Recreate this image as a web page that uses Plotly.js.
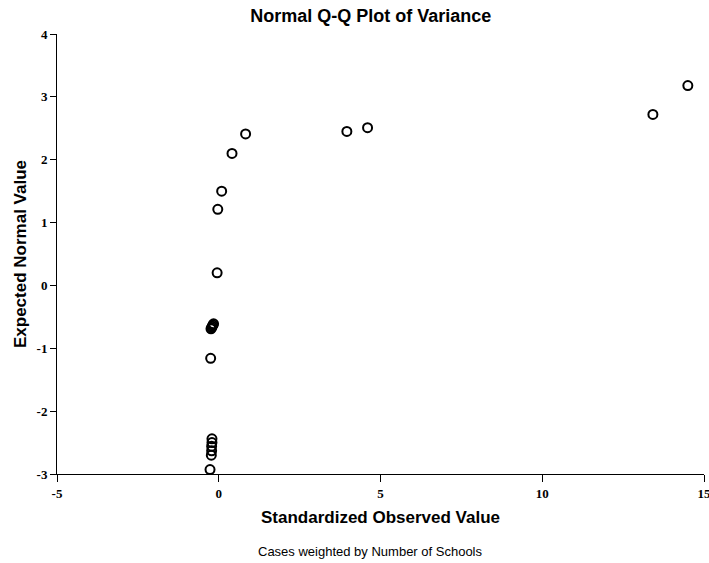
<!DOCTYPE html>
<html>
<head>
<meta charset="utf-8">
<script src="https://cdn.plot.ly/plotly-3.0.1.min.js"></script>
<style>html,body{margin:0;padding:0;background:#fff;}#chart{width:709px;height:563px;}</style>
</head>
<body>
<div id="chart"></div>
<script>
// Standardized observed values (x) and expected normal values (y)
const observedValues = [14.50, 13.42, 4.60, 3.96, 0.83, 0.41, 0.09, -0.03, -0.05,
  -0.16, -0.18, -0.20, -0.22, -0.24, -0.25,
  -0.21, -0.21, -0.22, -0.22, -0.23, -0.27];
const expectedValues = [3.18, 2.72, 2.51, 2.45, 2.41, 2.10, 1.50, 1.21, 0.20,
  -0.61, -0.63, -0.65, -0.67, -0.69, -1.16,
  -2.44, -2.50, -2.56, -2.63, -2.70, -2.93];
const xTicks = [-5, 0, 5, 10, 15];
const xTickLabels = ['-5', '0', '5', '10', '15'];
const yTicks = [-3, -2, -1, 0, 1, 2, 3, 4];
const yTickLabels = ['-3', '-2', '-1', '0', '1', '2', '3', '4'];

const trace = {
  x: observedValues,
  y: expectedValues,
  type: 'scatter',
  mode: 'markers',
  marker: {symbol: 'circle-open', size: 9, color: '#000', line: {width: 2, color: '#000'}},
  hoverinfo: 'x+y'
};

const axisCommon = {
  showgrid: false, zeroline: false, showline: true, linecolor: '#000', linewidth: 1,
  ticks: 'outside', tickcolor: '#000', ticklen: 6, tickwidth: 1,
  ticklabeloverflow: 'allow',
  tickfont: {family: 'Liberation Serif, serif', size: 13, color: '#000', weight: 'bold'}
};
const titleFont = {family: 'Liberation Sans, Arial, sans-serif', size: 17, color: '#000', weight: 'bold'};

const layout = {
  width: 709, height: 563,
  margin: {l: 57, r: 5, t: 34, b: 89},
  paper_bgcolor: '#fff', plot_bgcolor: '#fff',
  showlegend: false,
  title: {text: 'Normal Q-Q Plot of Variance', font: Object.assign({}, titleFont, {size: 18}),
    x: 0.485, xref: 'paper', xanchor: 'center', y: 0.972, yref: 'container', yanchor: 'middle'},
  xaxis: Object.assign({}, axisCommon, {
    range: [-5, 15], tickvals: xTicks, ticktext: xTickLabels, ticklen: 7,
    title: {text: 'Standardized Observed Value', font: titleFont, standoff: 11}
  }),
  yaxis: Object.assign({}, axisCommon, {
    range: [-3, 4], tickvals: yTicks, ticktext: yTickLabels,
    title: {text: 'Expected Normal Value', font: titleFont, standoff: 5}
  }),
  annotations: [{
    text: 'Cases weighted by Number of Schools', showarrow: false,
    xref: 'paper', yref: 'paper', x: 0.485, y: -0.175, xanchor: 'center', yanchor: 'middle',
    font: {family: 'Liberation Sans, Arial, sans-serif', size: 13, color: '#000'}
  }]
};

Plotly.newPlot('chart', [trace], layout, {displayModeBar: false, staticPlot: true});
</script>
</body>
</html>
